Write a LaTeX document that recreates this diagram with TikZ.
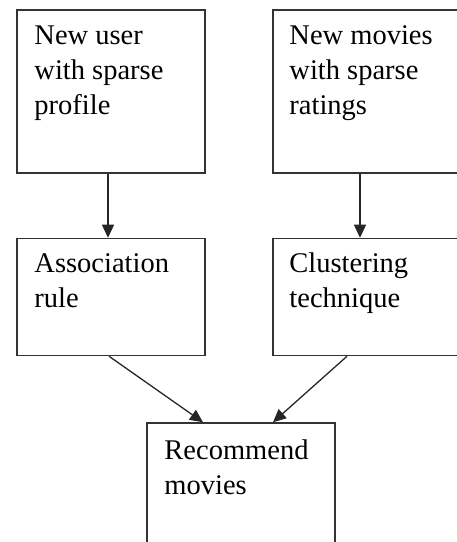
\documentclass[tikz,border=0pt]{standalone}
\usepackage{fontspec}
\setmainfont{Liberation Serif}
\usetikzlibrary{arrows.meta, positioning, calc}

\begin{document}
\begin{tikzpicture}[x=1pt, y=1pt,
    box/.style={draw=black!80, line width=1.5pt, minimum width=188pt, inner sep=0pt},
    boxtext/.style={anchor=base west, align=left, inner sep=0pt, font=\fontsize{28.5}{35}\selectfont},
    flow/.style={draw=black!85, line width=1.3pt, -{Triangle[length=13pt, width=12pt]}}]
      \useasboundingbox (0,0) rectangle (457,542);

      % top row
      \node[box, minimum height=163pt] (user) at (111, 450.5) {};
      \node[box, minimum height=163pt] (movies) at (367, 450.5) {};

      % middle row
      \node[box, minimum height=117pt, below=64pt of user] (assoc) {};
      \node[box, minimum height=117pt, below=64pt of movies] (cluster) {};

      % result
      \node[box, minimum height=163pt] (recommend) at (241, 37.5) {};

      % texts (base is the last line)
      \node[boxtext] (usertext) at ($(user.north west)+(18,-105)$) {New user\\with sparse\\profile};
      \node[boxtext] (moviestext) at ($(movies.north west)+(17,-105)$) {New movies\\with sparse\\ratings};
      \node[boxtext] (assoctext) at ($(assoc.north west)+(18,-70)$) {Association\\rule};
      \node[boxtext] (clustertext) at ($(cluster.north west)+(17,-70)$) {Clustering\\technique};
      \node[boxtext] (recommendtext) at ($(recommend.north west)+(18,-72)$) {Recommend\\movies};

      \draw[flow] ([xshift=-3pt]user.south) -- ([xshift=-3pt]assoc.north);
      \draw[flow] ([xshift=-7pt]movies.south) -- ([xshift=-7pt]cluster.north);
      \draw[flow] ([xshift=-2pt]assoc.south) -- ([xshift=-38pt]recommend.north);
      \draw[flow] ([xshift=-20pt]cluster.south) -- ([xshift=32pt]recommend.north);

    \end{tikzpicture}
\end{document}
